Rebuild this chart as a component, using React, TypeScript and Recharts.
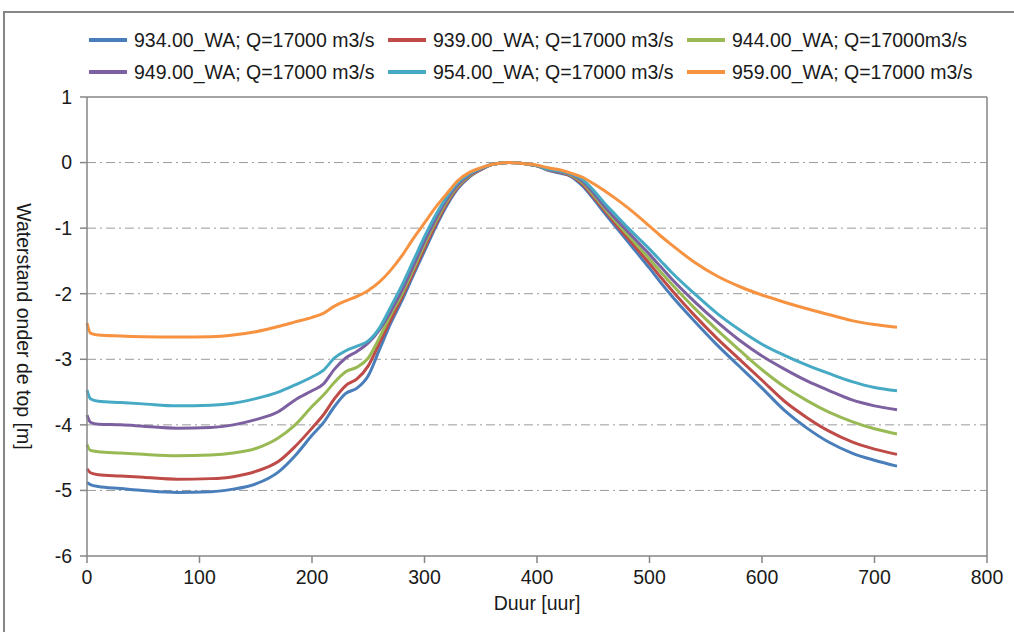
import React from "react";
import {
  LineChart,
  Line,
  XAxis,
  YAxis,
  CartesianGrid,
  ReferenceLine,
  Label,
} from "recharts";

const hours = [
  0, 3, 10, 30, 50, 80, 110, 130, 150, 170, 185, 200, 210, 220, 230, 240, 250, 260, 270, 280,
  290, 300, 310, 320, 330, 340, 350, 360, 375, 390, 400, 410, 420, 430, 440, 450, 460, 470,
  480, 490, 500, 510, 520, 540, 560, 580, 600, 620, 640, 660, 680, 700, 720,
];

const wa934 = [
  -4.88, -4.91, -4.94, -4.97, -5.0, -5.03, -5.02, -4.98, -4.9, -4.72, -4.47, -4.16, -3.97, -3.72,
  -3.52, -3.44, -3.25, -2.85, -2.45, -2.1, -1.72, -1.35, -0.98, -0.65, -0.39, -0.22, -0.11,
  -0.03, 0, -0.02, -0.05, -0.12, -0.16, -0.21, -0.35, -0.55, -0.77, -0.98, -1.19, -1.4, -1.61,
  -1.83, -2.04, -2.42, -2.78, -3.11, -3.44, -3.78, -4.05, -4.27, -4.43, -4.54, -4.63,
];
const wa939 = [
  -4.67, -4.73, -4.76, -4.78, -4.8, -4.83, -4.82, -4.79, -4.71, -4.56, -4.33, -4.05, -3.85, -3.6,
  -3.4, -3.3, -3.1, -2.75, -2.4, -2.05, -1.68, -1.3, -0.94, -0.62, -0.37, -0.21, -0.11, -0.03,
  0, -0.02, -0.05, -0.11, -0.15, -0.2, -0.32, -0.52, -0.73, -0.94, -1.14, -1.34, -1.54, -1.75,
  -1.95, -2.33, -2.68, -3.0, -3.32, -3.64, -3.89, -4.1, -4.26, -4.37, -4.45,
];
const wa944 = [
  -4.3, -4.39, -4.41, -4.43, -4.45, -4.47, -4.46, -4.43, -4.36, -4.2, -4.0, -3.72, -3.55, -3.35,
  -3.19, -3.12, -2.98, -2.67, -2.32, -2.0, -1.63, -1.25, -0.9, -0.59, -0.35, -0.2, -0.1, -0.03,
  0, -0.02, -0.05, -0.11, -0.14, -0.19, -0.3, -0.49, -0.7, -0.9, -1.09, -1.28, -1.47, -1.67,
  -1.86, -2.22, -2.55, -2.86, -3.16, -3.42, -3.63, -3.81, -3.95, -4.06, -4.14,
];
const wa949 = [
  -3.85, -3.96, -3.99, -4.0, -4.02, -4.05, -4.04, -4.0, -3.92, -3.8, -3.62, -3.48, -3.38, -3.15,
  -2.98, -2.88, -2.75, -2.55, -2.27, -1.95, -1.58, -1.2, -0.86, -0.56, -0.33, -0.19, -0.1, -0.03,
  0, -0.02, -0.05, -0.11, -0.14, -0.18, -0.28, -0.46, -0.67, -0.86, -1.04, -1.22, -1.4, -1.59,
  -1.78, -2.12, -2.43, -2.71, -2.95, -3.15, -3.33, -3.48, -3.62, -3.71, -3.77,
];
const wa954 = [
  -3.47, -3.6, -3.64, -3.66, -3.68, -3.71, -3.7, -3.67, -3.6, -3.5, -3.39, -3.27, -3.17, -2.98,
  -2.87, -2.8, -2.72, -2.52, -2.2, -1.87, -1.5, -1.13, -0.8, -0.52, -0.3, -0.17, -0.09, -0.03,
  0, -0.02, -0.05, -0.1, -0.13, -0.17, -0.25, -0.42, -0.62, -0.8, -0.98, -1.15, -1.32, -1.5,
  -1.68, -2.0, -2.3, -2.55, -2.77, -2.94, -3.09, -3.22, -3.34, -3.43, -3.48,
];
const wa959 = [
  -2.45, -2.6, -2.63, -2.645, -2.655, -2.66, -2.655, -2.63, -2.58, -2.5, -2.43, -2.36, -2.3,
  -2.19, -2.11, -2.04, -1.95, -1.82, -1.64, -1.42, -1.16, -0.92, -0.68, -0.47, -0.27, -0.15,
  -0.08, -0.03, 0, -0.02, -0.04, -0.08, -0.11, -0.16, -0.22, -0.32, -0.43, -0.55, -0.68, -0.82,
  -0.97, -1.12, -1.26, -1.52, -1.73, -1.89, -2.02, -2.13, -2.23, -2.32, -2.41, -2.47, -2.51,
];

const xTicks = [0, 100, 200, 300, 400, 500, 600, 700, 800];
const yTicks = [-6, -5, -4, -3, -2, -1, 0, 1];

const series = [
  { key: "s934", name: "934.00_WA; Q=17000 m3/s", color: "#4a7ebb", values: wa934 },
  { key: "s939", name: "939.00_WA; Q=17000 m3/s", color: "#be4b48", values: wa939 },
  { key: "s944", name: "944.00_WA; Q=17000m3/s", color: "#98b954", values: wa944 },
  { key: "s949", name: "949.00_WA; Q=17000 m3/s", color: "#7d60a0", values: wa949 },
  { key: "s954", name: "954.00_WA; Q=17000 m3/s", color: "#46aac5", values: wa954 },
  { key: "s959", name: "959.00_WA; Q=17000 m3/s", color: "#f69240", values: wa959 },
];

const rows = hours.map((h, i) => {
  const row: Record<string, number> = { t: h };
  series.forEach((s) => (row[s.key] = s.values[i]));
  return row;
});

const font = "'Liberation Sans', Arial, sans-serif";
const textColor = "#1a1a1a";
const axisColor = "#868686";

export default function App() {
  return (
    <div
      style={{
        position: "absolute",
        left: 0,
        top: 0,
        width: 1014,
        height: 632,
        overflow: "hidden",
        background: "#fff",
        fontFamily: font,
      }}
    >
      <div
        style={{
          position: "absolute",
          left: 3,
          top: 11,
          width: 1100,
          height: 700,
          border: `2px solid ${axisColor}`,
        }}
      />
      {/* legend, 3 per row */}
      {series.map((s, i) => (
        <div
          key={s.key}
          style={{
            position: "absolute",
            left: 89 + (i % 3) * 299,
            top: 40 + Math.floor(i / 3) * 32 - 12,
            height: 24,
            display: "flex",
            alignItems: "center",
            fontSize: 19.5,
            color: textColor,
            whiteSpace: "nowrap",
          }}
        >
          <span
            style={{
              display: "inline-block",
              width: 38,
              height: 4,
              background: s.color,
              marginRight: 7,
            }}
          />
          {s.name}
        </div>
      ))}
      <LineChart
        width={1014}
        height={632}
        data={rows}
        margin={{ top: 97, right: 27, bottom: 46, left: 37 }}
        style={{ position: "absolute", left: 0, top: 0 }}
      >
        <CartesianGrid
          vertical={false}
          stroke="#9a9a9a"
          strokeDasharray="9 4 2 4"
          horizontalValues={[-5, -4, -3, -2, -1, 0]}
        />
        <ReferenceLine y={1} stroke={axisColor} strokeWidth={1.5} ifOverflow="extendDomain" />
        <ReferenceLine x={800} stroke={axisColor} strokeWidth={1.5} />
        <XAxis
          dataKey="t"
          type="number"
          domain={[0, 800]}
          ticks={xTicks}
          height={30}
          tickSize={7}
          tickMargin={7}
          stroke={axisColor}
          strokeWidth={1.5}
          tick={{ fill: textColor, fontSize: 19.5, fontFamily: font }}
        >
          <Label
            value="Duur [uur]"
            position="bottom"
            offset={10}
            style={{ fill: textColor, fontSize: 19.5, fontFamily: font }}
          />
        </XAxis>
        <YAxis
          type="number"
          domain={[-6, 1]}
          ticks={yTicks}
          width={50}
          tickSize={7}
          tickMargin={8}
          stroke={axisColor}
          strokeWidth={1.5}
          interval={0}
          tick={{ fill: textColor, fontSize: 19.5, fontFamily: font }}
        >
          <Label
            value="Waterstand onder de top [m]"
            angle={90}
            position="insideLeft"
            offset={-13}
            style={{ fill: textColor, fontSize: 19.5, fontFamily: font, textAnchor: "middle" }}
          />
        </YAxis>
        {series.map((s) => (
          <Line
            key={s.key}
            dataKey={s.key}
            name={s.name}
            type="monotone"
            stroke={s.color}
            strokeWidth={3}
            dot={false}
            isAnimationActive={false}
          />
        ))}
      </LineChart>
    </div>
  );
}
